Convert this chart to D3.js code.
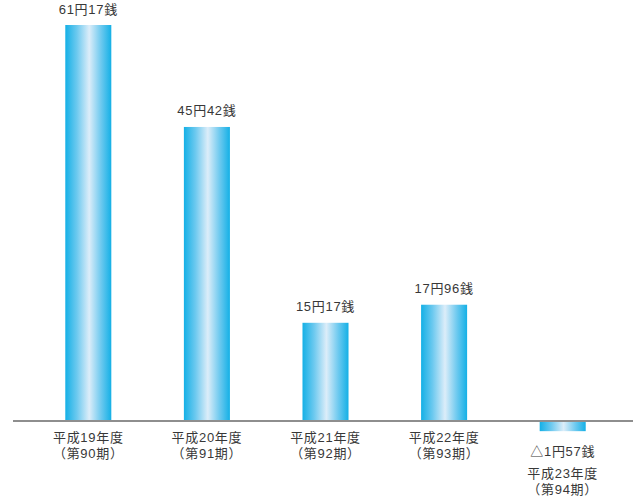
<!DOCTYPE html>
<html><head><meta charset="utf-8">
<script src="https://cdn.jsdelivr.net/npm/d3@7"></script>
<style>body{margin:0;background:#fff;} text{font-family:"Liberation Sans","Noto Sans CJK JP",sans-serif;}</style>
</head><body>
<svg id="c" width="640" height="500"></svg>
<script>
const years = ["平成19年度","平成20年度","平成21年度","平成22年度","平成23年度"];
const terms = ["（第90期）","（第91期）","（第92期）","（第93期）","（第94期）"];
const values = [61.17, 45.42, 15.17, 17.96, -1.57];
const valueLabels = ["61円17銭","45円42銭","15円17銭","17円96銭","△1円57銭"];

const svg = d3.select("#c");
const x = d3.scaleBand().domain(d3.range(values.length)).range([29, 622]).paddingInner(0.612).paddingOuter(0.306);
const y = d3.scaleLinear().domain([0, 61.17]).range([421, 25]);

const defs = svg.append("defs");
const g = defs.append("linearGradient").attr("id","bg").attr("x1","0%").attr("x2","100%");
g.append("stop").attr("offset","0%").attr("stop-color","#14b0e6");
g.append("stop").attr("offset","25%").attr("stop-color","#6cc9ef");
g.append("stop").attr("offset","52%").attr("stop-color","#dcedf9");
g.append("stop").attr("offset","78%").attr("stop-color","#6cc9ef");
g.append("stop").attr("offset","100%").attr("stop-color","#14b0e6");

svg.selectAll("rect.bar").data(values).join("rect")
  .attr("class","bar")
  .attr("x",(d,i)=>x(i))
  .attr("width",x.bandwidth())
  .attr("y",d=>Math.min(y(d),y(0)))
  .attr("height",d=>Math.abs(y(d)-y(0)))
  .attr("fill","url(#bg)");

svg.append("line").attr("x1",13).attr("x2",633).attr("y1",y(0)).attr("y2",y(0))
  .attr("stroke","#8e8e8e").attr("stroke-width",2);

const cx = i => x(i)+x.bandwidth()/2;
const fs = 13;
const ls = 0.7;
svg.selectAll("text.val").data(values).join("text")
  .attr("class","val")
  .attr("x",(d,i)=>cx(i))
  .attr("y",d=> d>=0 ? y(d)-11.5 : 456)
  .attr("text-anchor","middle").attr("font-size",fs).attr("letter-spacing",ls).attr("fill","#383838")
  .text((d,i)=>valueLabels[i]);

svg.selectAll("text.yr").data(values).join("text")
  .attr("class","yr")
  .attr("x",(d,i)=>cx(i))
  .attr("y",d=> d>=0 ? 442 : 477.5)
  .attr("text-anchor","middle").attr("font-size",fs).attr("letter-spacing",ls).attr("fill","#383838")
  .text((d,i)=>years[i]);

svg.selectAll("text.tm").data(values).join("text")
  .attr("class","tm")
  .attr("x",(d,i)=>cx(i))
  .attr("y",d=> d>=0 ? 458 : 494)
  .attr("text-anchor","middle").attr("font-size",fs).attr("letter-spacing",ls).attr("fill","#383838")
  .text((d,i)=>terms[i]);
</script>
</body></html>
